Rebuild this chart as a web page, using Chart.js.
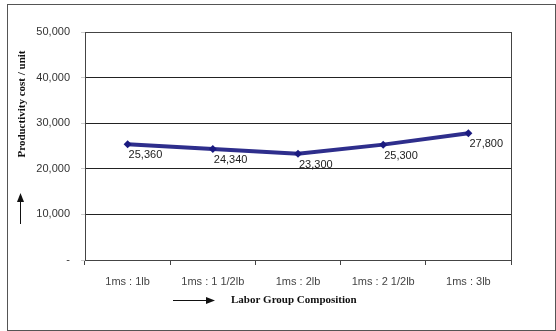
<!DOCTYPE html>
<html>
<head>
<meta charset="utf-8">
<script src="https://cdn.jsdelivr.net/npm/chart.js@4"></script>
<style>
  html, body { margin: 0; padding: 0; background: #fff; }
  #wrap { width: 556px; height: 331px; }
</style>
</head>
<body>
<div id="wrap"><canvas id="chart" width="556" height="331"></canvas></div>
<script>
const categories = ["1ms : 1lb", "1ms : 1 1/2lb", "1ms : 2lb", "1ms : 2 1/2lb", "1ms : 3lb"];
const costPerUnit = [25360, 24340, 23300, 25300, 27800];
const yTicks = [0, 10000, 20000, 30000, 40000, 50000];
const yTitle = "Productivity cost / unit";
const xTitle = "Labor Group Composition";

const fmt = v => v === 0 ? "-" : v.toLocaleString("en-US");

// frame, axis titles with arrows, value labels
const extras = {
    id: "extras",
    afterDraw(chart) {
        const ctx = chart.ctx;
        const area = chart.chartArea;
        ctx.save();

        // outer frame
        ctx.strokeStyle = "#555";
        ctx.lineWidth = 1;
        ctx.strokeRect(7.5, 4.5, 548, 326);

        // plot border
        ctx.strokeStyle = "#444";
        ctx.strokeRect(area.left + 0.5, area.top + 0.5, area.right - area.left, area.bottom - area.top);

        // value labels
        const meta = chart.getDatasetMeta(0);
        ctx.font = "11px 'Liberation Sans', Arial, sans-serif";
        ctx.fillStyle = "#222";
        ctx.textAlign = "left";
        ctx.textBaseline = "middle";
        meta.data.forEach((pt, i) => {
            ctx.fillText(fmt(costPerUnit[i]), pt.x + 1, pt.y + 11);
        });

        // y title
        ctx.font = "bold 11px 'Liberation Serif', 'Times New Roman', serif";
        ctx.fillStyle = "#111";
        ctx.translate(22, 104);
        ctx.rotate(-Math.PI / 2);
        ctx.textAlign = "center";
        ctx.fillText(yTitle, 0, 0);
        ctx.setTransform(1, 0, 0, 1, 0, 0);

        // up arrow
        ctx.strokeStyle = "#111";
        ctx.fillStyle = "#111";
        ctx.beginPath();
        ctx.moveTo(20.5, 224);
        ctx.lineTo(20.5, 200);
        ctx.stroke();
        ctx.beginPath();
        ctx.moveTo(20.5, 193);
        ctx.lineTo(17, 202);
        ctx.lineTo(24, 202);
        ctx.closePath();
        ctx.fill();

        // x title
        ctx.textAlign = "left";
        ctx.fillText(xTitle, 231, 300);

        // right arrow
        ctx.beginPath();
        ctx.moveTo(173, 300.5);
        ctx.lineTo(208, 300.5);
        ctx.stroke();
        ctx.beginPath();
        ctx.moveTo(215, 300.5);
        ctx.lineTo(206, 297);
        ctx.lineTo(206, 304);
        ctx.closePath();
        ctx.fill();

        ctx.restore();
    }
};

new Chart(document.getElementById("chart"), {
    type: "line",
    data: {
        labels: categories,
        datasets: [{
            data: costPerUnit,
            borderColor: "#2e2e8c",
            backgroundColor: "#1a1a80",
            borderWidth: 4,
            tension: 0,
            pointStyle: "rectRot",
            pointRadius: 4,
            pointBorderWidth: 0,
            fill: false
        }]
    },
    options: {
        responsive: false,
        animation: false,
        layout: { padding: { left: 0, top: 32, right: 45, bottom: 0 } },
        plugins: {
            legend: { display: false },
            tooltip: { enabled: false }
        },
        scales: {
            x: {
                offset: true,
                afterFit: s => { s.height = 71; },
                grid: {
                    offset: true,
                    drawOnChartArea: false,
                    tickLength: 5,
                    color: "#444"
                },
                border: { display: false },
                ticks: {
                    color: "#444",
                    padding: 10,
                    font: { family: "'Liberation Sans', Arial, sans-serif", size: 11 }
                }
            },
            y: {
                min: 0,
                max: 50000,
                afterFit: s => { s.width = 85; },
                afterBuildTicks: s => { s.ticks = yTicks.map(v => ({ value: v })); },
                grid: {
                    color: "#222",
                    tickLength: 4,
                    tickColor: "#ccc"
                },
                border: { display: false },
                ticks: {
                    color: "#333",
                    padding: 11,
                    callback: v => fmt(v),
                    font: { family: "'Liberation Sans', Arial, sans-serif", size: 11 }
                }
            }
        }
    },
    plugins: [extras]
});
</script>
</body>
</html>
